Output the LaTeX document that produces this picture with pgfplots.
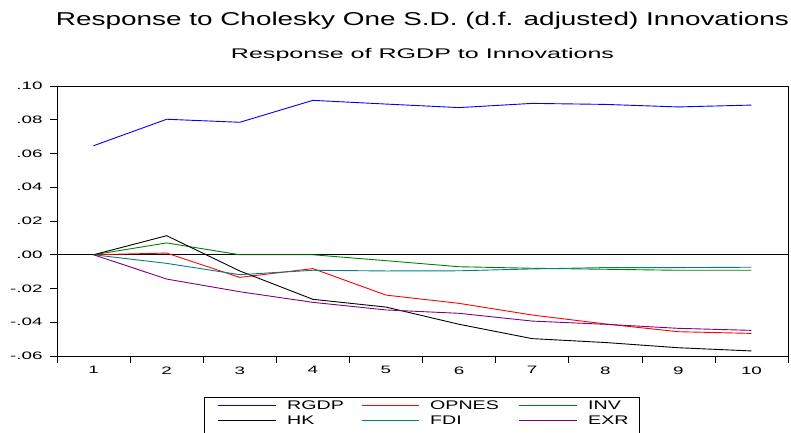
\documentclass[border=0pt]{standalone}
\usepackage{pgfplots}
\pgfplotsset{compat=1.18}
\usepackage{fontspec}
\setmainfont{Liberation Sans}
\newfontfamily\fT[FakeStretch=1.5]{Liberation Sans}
\newfontfamily\fS[FakeStretch=1.79]{Liberation Sans}
\newfontfamily\fK[FakeStretch=1.75]{Liberation Sans}
\newfontfamily\fL[FakeStretch=1.57]{Liberation Sans}

\newcommand{\tk}[1]{{\fK\fontsize{10.75}{11}\selectfont #1}}
\newcommand{\lgt}[1]{{\fL\fontsize{12.5}{12.5}\selectfont #1}}

\definecolor{cRGDP}{RGB}{0,0,255}
\definecolor{cOPNES}{RGB}{255,0,0}
\definecolor{cINV}{RGB}{0,128,0}
\definecolor{cHK}{RGB}{0,0,0}
\definecolor{cFDI}{RGB}{0,128,128}
\definecolor{cEXR}{RGB}{128,0,128}

\begin{document}
\begin{tikzpicture}
\useasboundingbox (0pt,0pt) rectangle (791pt,-432pt);
\begin{axis}[
  at={(57pt,-356pt)}, anchor=south west,
  width=731pt, height=270pt, scale only axis,
  xmin=0.5, xmax=10.5, ymin=-0.06, ymax=0.10,
  xtick={0.5,1.5,2.5,3.5,4.5,5.5,6.5,7.5,8.5,9.5,10.5},
  x tick label as interval,
  xticklabels={\tk{1},\tk{2},\tk{3},\tk{4},\tk{5},\tk{6},\tk{7},\tk{8},\tk{9},\tk{10},{}},
  ytick={-0.06,-0.04,-0.02,0,0.02,0.04,0.06,0.08,0.1},
  yticklabels={\tk{-.06},\tk{-.04},\tk{-.02},\tk{.00},\tk{.02},\tk{.04},\tk{.06},\tk{.08},\tk{.10}},
  yticklabel style={xshift=-4pt},
  extra y ticks={0}, extra y tick labels={},
  extra y tick style={grid=major, major grid style={black, line width=0.6pt}, major tick length=0pt},
  tick align=outside, xtick pos=bottom, ytick pos=left,
  major tick length=7pt,
  tick style={black, line width=0.6pt},
  axis line style={black, line width=1pt},
  title={\fS\fontsize{14}{14}\selectfont Response of RGDP to Innovations},
  title style={at={(axis description cs:0.5,1.0778)}, anchor=base, inner sep=0pt},
  after end axis/.code={
    \node[anchor=base, inner sep=0pt] at (axis description cs:0.5,1.2259)
      {\fT\fontsize{18.6}{19}\selectfont Response to Cholesky One S.D. (d.f. adjusted) Innovations};
  },
]
\addplot[cRGDP, line width=0.9pt] coordinates {
 (1,0.0646) (2,0.0803) (3,0.0785) (4,0.0915) (5,0.0893) (6,0.0872) (7,0.0897) (8,0.0891) (9,0.0876) (10,0.0887)};
\addplot[cOPNES, line width=0.9pt] coordinates {
 (1,0) (2,0.0010) (3,-0.0134) (4,-0.0082) (5,-0.0239) (6,-0.0288) (7,-0.0357) (8,-0.0410) (9,-0.0456) (10,-0.0466)};
\addplot[cINV, line width=0.9pt] coordinates {
 (1,0) (2,0.0070) (3,0.0000) (4,0.0000) (5,-0.0035) (6,-0.0071) (7,-0.0080) (8,-0.0086) (9,-0.0092) (10,-0.0092)};
\addplot[cHK, line width=0.9pt] coordinates {
 (1,0) (2,0.0113) (3,-0.0096) (4,-0.0264) (5,-0.0310) (6,-0.0412) (7,-0.0497) (8,-0.0520) (9,-0.0551) (10,-0.0570)};
\addplot[cFDI, line width=0.9pt] coordinates {
 (1,0) (2,-0.0051) (3,-0.0118) (4,-0.0092) (5,-0.0096) (6,-0.0095) (7,-0.0084) (8,-0.0076) (9,-0.0076) (10,-0.0074)};
\addplot[cEXR, line width=0.9pt] coordinates {
 (1,0) (2,-0.0144) (3,-0.0219) (4,-0.0282) (5,-0.0327) (6,-0.0347) (7,-0.0393) (8,-0.0412) (9,-0.0436) (10,-0.0448)};
\end{axis}
% legend (drawn as a separate frame below the axis)
\draw[black, line width=0.6pt] (204pt,-440pt) -- (204pt,-397pt) -- (639pt,-397pt) -- (639pt,-440pt);
\begin{scope}[every node/.style={anchor=west, inner sep=0pt, text height=9pt, text depth=0pt}]
  \draw[cRGDP, line width=0.9pt] (218pt,-405pt) -- (276pt,-405pt);
  \node at (287pt,-405pt) {\lgt{RGDP}};
  \draw[cOPNES, line width=0.9pt] (362pt,-405pt) -- (419pt,-405pt);
  \node at (430pt,-405pt) {\lgt{OPNES}};
  \draw[cINV, line width=0.9pt] (519pt,-405pt) -- (577pt,-405pt);
  \node at (588pt,-405pt) {\lgt{INV}};
  \draw[cHK, line width=0.9pt] (218pt,-420pt) -- (276pt,-420pt);
  \node at (287pt,-420pt) {\lgt{HK}};
  \draw[cFDI, line width=0.9pt] (362pt,-420pt) -- (419pt,-420pt);
  \node at (430pt,-420pt) {\lgt{FDI}};
  \draw[cEXR, line width=0.9pt] (519pt,-420pt) -- (577pt,-420pt);
  \node at (588pt,-420pt) {\lgt{EXR}};
\end{scope}
\end{tikzpicture}
\end{document}
